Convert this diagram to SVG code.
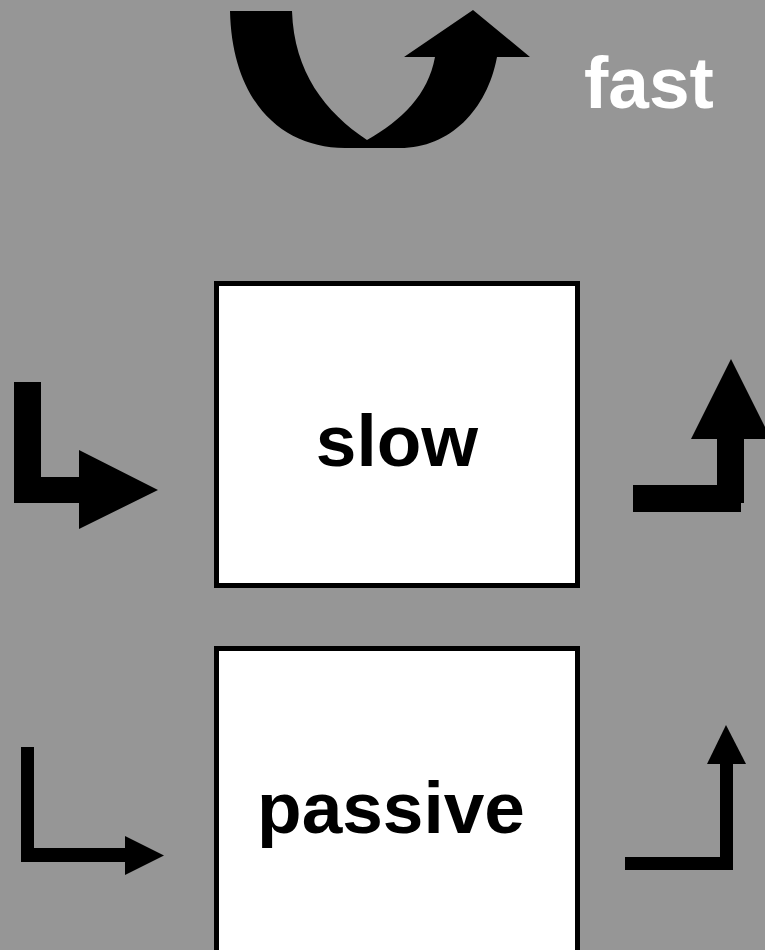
<svg xmlns="http://www.w3.org/2000/svg" width="765" height="950" viewBox="0 0 765 950">
<style>
.box{fill:#ffffff;stroke:#000000;stroke-width:5}
.lbl{font-family:"Liberation Sans",Arial,sans-serif;font-weight:bold;font-size:73px}
.arrow{fill:#000000;stroke:none}
</style>
<rect x="0" y="0" width="765" height="950" fill="#969696"/>
<g id="connectors">
<path id="fast-arrow" class="arrow" d="M230,11 L292,11 C294,72 325,112 367,140 C402,120 428,95 435,57 L404,57 L473,10 L530,57 L497,57 C487,110 450,148 400,148 L345,148 C280,148 232,100 230,11 Z"/>
<path id="slow-in" class="arrow" d="M14,382 L41,382 L41,477 L79,477 L79,450 L158,490 L79,529 L79,503 L14,503 Z"/>
<g id="slow-out" class="arrow">
<rect x="633" y="485" width="108" height="27"/>
<rect x="717" y="439" width="27" height="64"/>
<polygon points="691,439 731,359 771,439"/>
</g>
<path id="passive-in" class="arrow" d="M21,747 L34,747 L34,848 L125,848 L125,836 L164,855.5 L125,875 L125,862 L21,862 Z"/>
<g id="passive-out" class="arrow">
<rect x="625" y="857" width="108" height="13"/>
<rect x="720" y="764" width="13" height="100"/>
<polygon points="707,764 726,725 746,764"/>
</g>
</g>
<g id="fast">
<text class="lbl" x="584" y="108" fill="#ffffff">fast</text>
</g>
<g id="slow">
<rect class="box" x="216.5" y="283.5" width="361" height="302"/>
<text class="lbl" x="397" y="466" text-anchor="middle">slow</text>
</g>
<g id="passive">
<rect class="box" x="216.5" y="648.5" width="361" height="310"/>
<text class="lbl" x="391" y="833" text-anchor="middle">passive</text>
</g>
</svg>
